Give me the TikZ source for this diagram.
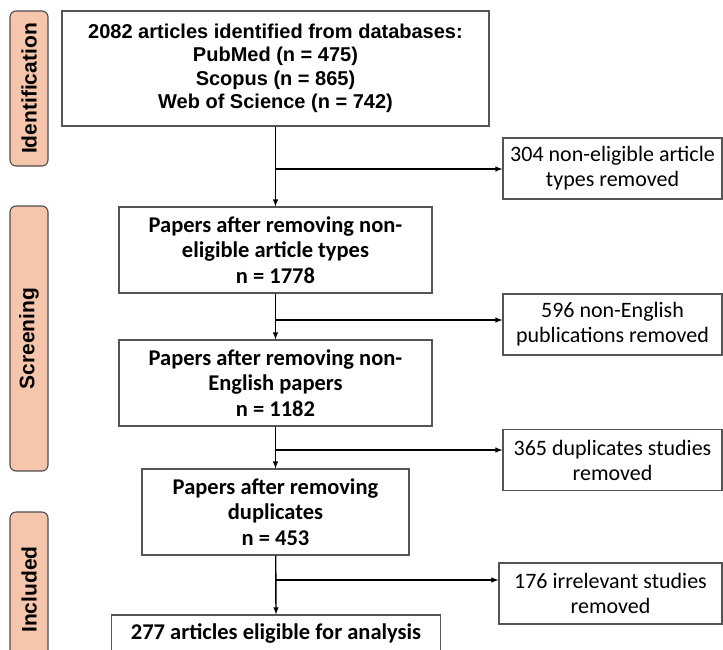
\documentclass[tikz,border=0pt]{standalone}
\usepackage{fontspec}
\setmainfont{Liberation Sans}
\newfontfamily\carlito{Carlito}
\usepackage{tikz}
\usetikzlibrary{shapes,arrows}
\usetikzlibrary{calc}
\usetikzlibrary{positioning}
\definecolor{peach}{HTML}{F5C6AB}
\definecolor{boxgray}{HTML}{555555}

\begin{document}
\begin{tikzpicture}[x=1pt, y=-1pt, >=latex,
		main_box/.style={rectangle,draw=boxgray,line width=1.1pt,align=center,inner sep=0pt,font=\carlito\bfseries\fontsize{22.5}{25.5}\selectfont},
		side_box/.style={rectangle,draw=boxgray,line width=1.1pt,align=center,inner sep=0pt,minimum height=61pt,font=\carlito\fontsize{22}{25}\selectfont},
		stage_box/.style={rectangle,rounded corners=6pt,draw=black!70,fill=peach,line width=1.1pt,rotate=90,minimum height=38pt,inner sep=0pt,font=\bfseries\fontsize{21}{21}\selectfont}]
				\clip (0,0) rectangle (723,649);
				
				% stages
				\node[stage_box, minimum width=155pt] (10) at (29, 88.5) {Identification};
				\node[stage_box, minimum width=265pt] (11) at (29, 338.5) {Screening};
				\node[stage_box, minimum width=155pt] (12) at (29, 589.5) {Included};
				
				% main flow
				\node[main_box, minimum width=427pt, minimum height=115pt, font=\bfseries\fontsize{20}{23.5}\selectfont] (1) at (275.5, 68.5) {2082 articles identified from databases:\\PubMed (n = 475)\\Scopus (n = 865)\\Web of Science (n = 742)};
				\node[main_box, minimum width=313pt, minimum height=86pt] (2) at (275.5, 250) {Papers after removing non-\\eligible article types\\n = 1778};
				\node[main_box, minimum width=313pt, minimum height=86pt] (3) at (275.5, 383) {Papers after removing non-\\English papers\\n = 1182};
				\node[main_box, minimum width=267pt, minimum height=86pt] (4) at (275.5, 512) {Papers after removing\\duplicates\\n = 453};
				\node[main_box, minimum width=329pt, minimum height=37pt] (5) at (276, 633.5) {277 articles eligible for analysis};
				
				% removed
				\node[side_box, minimum width=219pt] (6) at (612.5, 168.5) {304 non-eligible article\\types removed};
				\node[side_box, minimum width=219pt] (7) at (612.5, 324.5) {596 non-English\\publications removed};
				\node[side_box, minimum width=219pt] (8) at (612.5, 460) {365 duplicates studies\\removed};
				\node[side_box, minimum width=223pt] (9) at (610.5, 593.5) {176 irrelevant studies\\removed};
				
				\coordinate (b1) at (275.5, 169);
				\coordinate (b2) at (275.5, 320);
				\coordinate (b3) at (275.5, 450);
				\coordinate (b4) at (275.5, 580);
				
				\path[->, line width=1.4pt]
				(1) edge (2)
				(2) edge (3)
				(3) edge (4)
				(4) edge (5 |- 5.north)
				(b1) edge (6.west |- b1)
				(b2) edge (7.west |- b2)
				(b3) edge (8.west |- b3)
				(b4) edge (9.west |- b4);
			\end{tikzpicture}
\end{document}
